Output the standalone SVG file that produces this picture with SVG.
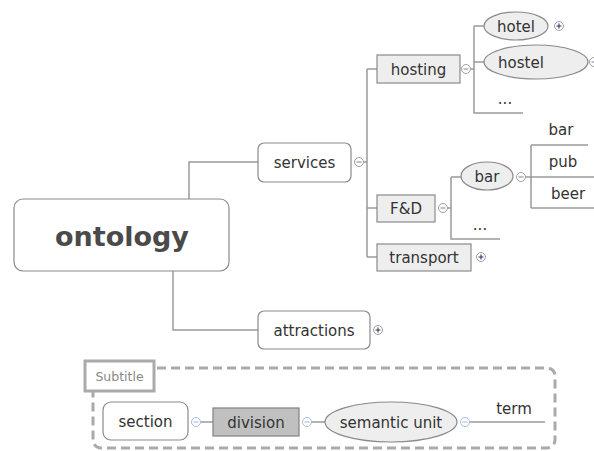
<svg xmlns="http://www.w3.org/2000/svg" width="594" height="451" viewBox="0 0 594 451">
  <style>
    text { font-family: "DejaVu Sans", "Liberation Sans", sans-serif; font-size: 15px; fill: #333; text-anchor: middle; }
    .root { font-size: 27px; font-weight: bold; fill: #4a4a4a; }
    .plain { fill: #fff; stroke: #8a8a8a; stroke-width: 1.2; }
    .sub { fill: #eee; stroke: #8a8a8a; stroke-width: 1.2; }
    .dark { fill: #c0c0c0; stroke: #808080; stroke-width: 1.2; }
    .conn { fill: none; stroke: #9a9a9a; stroke-width: 1.5; }
    .tog { fill: #fff; stroke: #a0a0a0; stroke-width: 1; }
    .togb { fill: #fff; stroke: #a8bde0; stroke-width: 1; }
    .sign { stroke: #2a3a6a; stroke-width: 1.1; fill: none; }
    .signm { stroke: #8890a0; stroke-width: 1.1; fill: none; }
    .signb { stroke: #a8bde0; stroke-width: 1.1; fill: none; }
    .small { font-size: 12.5px; fill: #888; }
  </style>
  <defs>
    <g id="minus"><circle class="tog" r="4.5"/><path class="signm" d="M-2.5 0H2.5"/></g>
    <g id="plus"><circle class="tog" r="4.5"/><path class="sign" d="M-2.5 0H2.5M0 -2.5V2.5"/></g>
    <g id="minusb"><circle class="togb" r="4.5"/><path class="signb" d="M-2.5 0H2.5"/></g>
  </defs>

  <g id="connectors">
    <path class="conn" d="M189 199V162H258"/>
    <path class="conn" d="M173 271V330H258"/>
    <path class="conn" d="M363 162H367M367 69V257M367 69H377M367 208H377M367 257H377"/>
    <path class="conn" d="M470 69H474M474 26V113H523M474 26H484M474 62H484"/>
    <path class="conn" d="M447 208H451M451 177V239H500M451 177H461"/>
    <path class="conn" d="M525 177H594M531 145V208M531 145H588M531 208H594"/>
    <path class="conn" d="M200 422H213M311 422H325M469 422H545"/>
  </g>

  <g id="ontology">
    <rect class="plain" x="14" y="199" width="215" height="72" rx="9"/>
    <text class="root" x="122" y="246">ontology</text>
  </g>

  <g id="services">
    <rect class="plain" x="258" y="143" width="93" height="39" rx="6"/>
    <text x="304.5" y="167.5">services</text>
    <use href="#minus" x="359" y="162"/>
  </g>

  <g id="attractions">
    <rect class="plain" x="258" y="311" width="112" height="38" rx="6"/>
    <text x="314" y="335.5">attractions</text>
    <use href="#plus" x="378" y="330"/>
  </g>

  <g id="hosting">
    <rect class="sub" x="377" y="55" width="83" height="28"/>
    <text x="418.5" y="74.5">hosting</text>
    <use href="#minus" x="466" y="69"/>
  </g>

  <g id="hotel">
    <ellipse class="sub" cx="516" cy="26" rx="32" ry="14"/>
    <text x="516" y="31.5">hotel</text>
    <use href="#plus" x="559" y="26"/>
  </g>

  <g id="hostel">
    <ellipse class="sub" cx="536" cy="62" rx="52" ry="17"/>
    <text x="521" y="67.5">hostel</text>
    <use href="#minus" x="594" y="62"/>
  </g>

  <g id="hosting-more">
    <text x="505" y="104">...</text>
  </g>

  <g id="fd">
    <rect class="sub" x="377" y="195" width="58" height="27"/>
    <text x="406" y="213.5">F&amp;D</text>
    <use href="#minus" x="443" y="208"/>
  </g>

  <g id="bar">
    <ellipse class="sub" cx="487" cy="176" rx="26" ry="14"/>
    <text x="487" y="181.5">bar</text>
    <use href="#minus" x="521" y="177"/>
  </g>

  <g id="fd-more">
    <text x="480" y="230">...</text>
  </g>

  <g id="bar-term"><text x="561" y="135">bar</text></g>
  <g id="pub-term"><text x="563" y="167">pub</text></g>
  <g id="beer-term"><text x="568" y="199">beer</text></g>

  <g id="transport">
    <rect class="sub" x="377" y="244" width="94" height="27"/>
    <text x="424" y="262.5">transport</text>
    <use href="#plus" x="481" y="257"/>
  </g>

  <g id="legend">
    <rect x="93" y="368" width="462" height="80" rx="8" fill="none" stroke="#aaa" stroke-width="3" stroke-dasharray="9 5"/>
    <g id="subtitle">
      <rect x="85" y="361" width="69" height="30" fill="#fff" stroke="#aaa" stroke-width="3"/>
      <text class="small" x="119.5" y="381">Subtitle</text>
    </g>
    <g id="section">
      <rect class="plain" x="103" y="402" width="85" height="38" rx="8"/>
      <text x="145.5" y="427">section</text>
      <use href="#minusb" x="196" y="422"/>
    </g>
    <g id="division">
      <rect class="dark" x="213" y="408" width="86" height="28"/>
      <text x="256" y="427.5">division</text>
      <use href="#minusb" x="307" y="422"/>
    </g>
    <g id="semantic-unit">
      <ellipse class="sub" cx="391" cy="422" rx="66" ry="20"/>
      <text x="391" y="427.5">semantic unit</text>
      <use href="#minusb" x="465" y="422"/>
    </g>
    <g id="term">
      <text x="514" y="414">term</text>
    </g>
  </g>
</svg>
